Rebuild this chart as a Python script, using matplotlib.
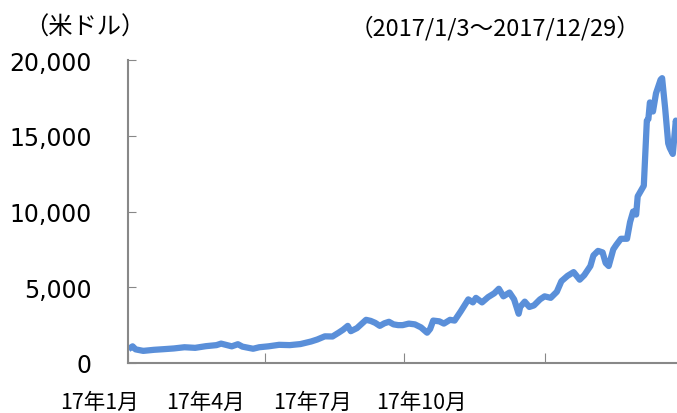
import matplotlib
matplotlib.use("Agg")
import matplotlib.pyplot as plt
import matplotlib.ticker as mticker
import matplotlib.transforms as mtransforms
import pandas as pd

plt.rcParams['font.family'] = ['Noto Sans CJK JP', 'DejaVu Sans']

# ビットコイン価格（米ドル）, 2017/1/3〜2017/12/29
dates = ["2017-01-03", "2017-01-04", "2017-01-06", "2017-01-11", "2017-01-13", "2017-01-18",
         "2017-01-24", "2017-01-31", "2017-02-07", "2017-02-14", "2017-02-21", "2017-02-28",
         "2017-03-03", "2017-03-10", "2017-03-14", "2017-03-17", "2017-03-24", "2017-03-28",
         "2017-04-03", "2017-04-10", "2017-04-17", "2017-04-24", "2017-05-01", "2017-05-05",
         "2017-05-10", "2017-05-15", "2017-05-19", "2017-05-22", "2017-05-25", "2017-05-27",
         "2017-05-31", "2017-06-06", "2017-06-09", "2017-06-12", "2017-06-15", "2017-06-18",
         "2017-06-21", "2017-06-24", "2017-06-27", "2017-06-30", "2017-07-04", "2017-07-08",
         "2017-07-12", "2017-07-16", "2017-07-18", "2017-07-20", "2017-07-24", "2017-07-27",
         "2017-07-31", "2017-08-03", "2017-08-07", "2017-08-12", "2017-08-15", "2017-08-17",
         "2017-08-21", "2017-08-25", "2017-08-29", "2017-09-01", "2017-09-04", "2017-09-08",
         "2017-09-11", "2017-09-14", "2017-09-15", "2017-09-18", "2017-09-21", "2017-09-24",
         "2017-09-28", "2017-10-01", "2017-10-05", "2017-10-09", "2017-10-12", "2017-10-16",
         "2017-10-20", "2017-10-24", "2017-10-27", "2017-10-31", "2017-11-02", "2017-11-05",
         "2017-11-08", "2017-11-10", "2017-11-12", "2017-11-15", "2017-11-17", "2017-11-20",
         "2017-11-24", "2017-11-26", "2017-11-28", "2017-11-30", "2017-12-01", "2017-12-05",
         "2017-12-07", "2017-12-08", "2017-12-09", "2017-12-11", "2017-12-13", "2017-12-16",
         "2017-12-17", "2017-12-19", "2017-12-21", "2017-12-22", "2017-12-24", "2017-12-26",
         "2017-12-28", "2017-12-29"]
prices = [1030, 1100, 900, 800, 820, 870,
          910, 960, 1040, 1000, 1110, 1180,
          1280, 1100, 1240, 1080, 940, 1040,
          1100, 1200, 1180, 1250, 1420, 1550,
          1760, 1750, 2000, 2200, 2450, 2100,
          2300, 2850, 2780, 2650, 2450, 2620,
          2720, 2550, 2500, 2500, 2600, 2550,
          2350, 2000, 2250, 2800, 2750, 2600,
          2850, 2800, 3400, 4200, 4000, 4300,
          4000, 4350, 4600, 4900, 4400, 4650,
          4200, 3250, 3700, 4050, 3700, 3800,
          4200, 4400, 4300, 4700, 5400, 5750,
          6000, 5500, 5800, 6400, 7100, 7400,
          7300, 6600, 6400, 7500, 7800, 8200,
          8200, 9300, 10000, 9800, 11000, 11700,
          16000, 16100, 17200, 16600, 17800, 18700,
          18800, 16800, 14500, 14200, 13800, 16000,
          14500, 14600]

yticks = [0, 5000, 10000, 15000, 20000]
month_ticks = ["2017-01-01", "2017-04-01", "2017-07-01", "2017-10-01"]
month_labels = ["17年1月", "17年4月", "17年7月", "17年10月"]
label_pos = ["2016-12-13", "2017-02-21", "2017-05-02", "2017-07-12"]

x = pd.to_datetime(dates)

fig = plt.figure(figsize=(6.77, 4.14), dpi=100)
ax = fig.add_axes([128 / 677, 50 / 414, 557 / 677, 303 / 414])

ax.plot(x, prices, color="#5a8fd9", linewidth=4.5, solid_joinstyle="round")

ax.set_ylim(0, 20000)
ax.set_yticks(yticks)
ax.yaxis.set_major_formatter(mticker.FuncFormatter(lambda v, p: f"{int(v):,}"))
ax.tick_params(axis="y", direction="in", length=6, color="#888888", pad=26,
               labelsize=17, labelfontfamily="DejaVu Sans")

ax.set_xticks(pd.to_datetime(month_ticks))
ax.set_xticklabels([])
ax.tick_params(axis="x", which="major", direction="in", length=7, color="#888888")
ax.set_xlim(pd.Timestamp("2017-01-01"), pd.Timestamp("2018-01-01"))

# 月ラベル（目盛りから左にずれて配置されている）
trans = mtransforms.blended_transform_factory(ax.transData, ax.transAxes)
for pos, lab in zip(pd.to_datetime(label_pos), month_labels):
    ax.text(pos, -39 / 303, lab, transform=trans, ha="center", va="center",
            fontsize=15.5, clip_on=False)

for s in ["top", "right"]:
    ax.spines[s].set_visible(False)
for s in ["left", "bottom"]:
    ax.spines[s].set_color("#888888")
    ax.spines[s].set_linewidth(1.5)

fig.text(85 / 677, 1 - 28 / 414, "（米ドル）", ha="center", va="center", fontsize=17.5)
fig.text(495 / 677, 1 - 28 / 414, "（2017/1/3～2017/12/29）", ha="center", va="center", fontsize=17)

fig.savefig("out.png", dpi=100)
